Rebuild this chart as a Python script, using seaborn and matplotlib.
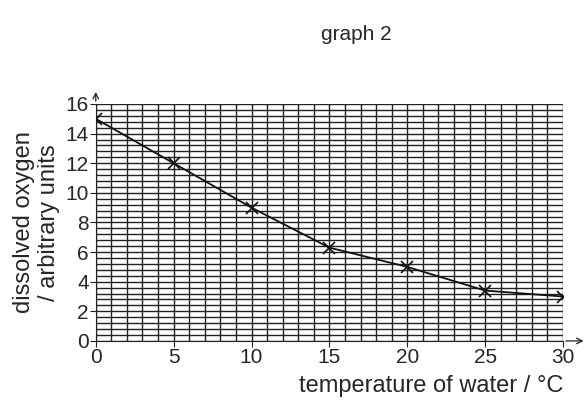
import matplotlib
matplotlib.use("Agg")
import matplotlib.pyplot as plt
import seaborn as sns
import numpy as np
import pandas as pd

temperature = [0, 5, 10, 15, 20, 25, 30]
oxygen = [15, 12, 9, 6.3, 5, 3.4, 3.0]

sns.set_style("white")
plt.rcParams['font.family'] = ['Liberation Sans', 'DejaVu Sans']
fig = plt.figure(figsize=(5.84, 4.03), dpi=100)
ax = fig.add_axes([0.164, 0.154, 0.8, 0.588])
df = pd.DataFrame({"t": temperature, "o": oxygen})
ax.set_xlim(0, 30)
ax.set_ylim(0, 16)
for x in np.arange(0, 31, 1):
    ax.axvline(x, color="#222222", lw=1.0, zorder=0)
for y in np.arange(0, 16.01, 0.4):
    ax.axhline(y, color="#222222", lw=1.0, zorder=0)
sns.lineplot(data=df, x="t", y="o", ax=ax, color="#111111", lw=1.3, marker="x",
             markersize=9, markeredgewidth=1.2, markeredgecolor="#111111", zorder=3)
ax.set_xticks(range(0, 31, 5))
ax.set_yticks(range(0, 17, 2))
ax.tick_params(labelsize=15, length=4, pad=1, direction="out", left=True, bottom=True, color="#222222")
for s in ["top", "right"]:
    ax.spines[s].set_visible(False)
for s in ["left", "bottom"]:
    ax.spines[s].set_color("#222222")
ax.annotate("", xy=(0, 17), xytext=(0, 16), xycoords="data", annotation_clip=False,
            arrowprops=dict(arrowstyle="->", color="#222222", lw=0.9))
ax.annotate("", xy=(31.5, 0), xytext=(30, 0), xycoords="data", annotation_clip=False,
            arrowprops=dict(arrowstyle="->", color="#222222", lw=0.9))
ax.set_xlabel("temperature of water / °C", fontsize=17, loc="right", labelpad=6)
ax.set_ylabel("dissolved oxygen\n/ arbitrary units", fontsize=17, labelpad=4)
fig.text(0.61, 0.9, "graph 2", fontsize=15, ha="center")
fig.savefig("out.png", dpi=100)
